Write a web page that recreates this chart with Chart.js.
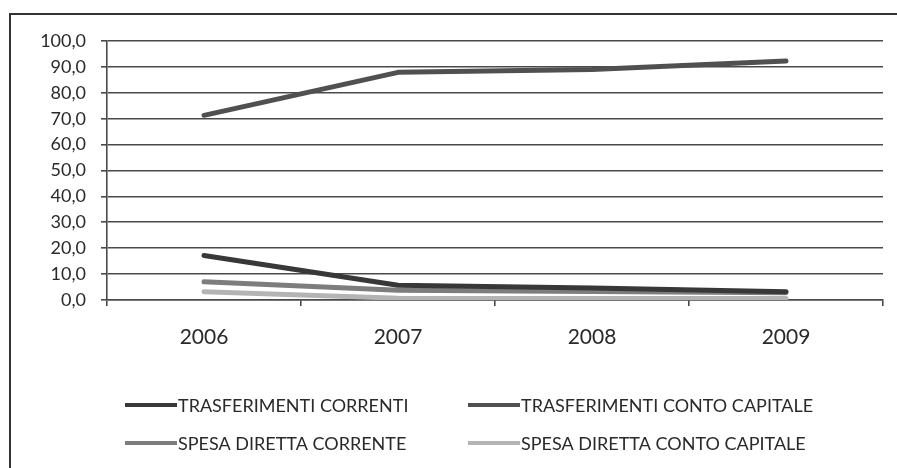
<!DOCTYPE html>
<html>
<head>
<meta charset="utf-8">
<script src="https://cdn.jsdelivr.net/npm/chart.js@4/dist/chart.umd.min.js"></script>
<style>
  html, body { margin: 0; padding: 0; background: #fff; overflow: hidden; }
  #wrap { position: relative; width: 897px; height: 468px; }
  #frame { position: absolute; left: 9px; top: 13px; width: 1000px; height: 600px; border: 2px solid #333; box-sizing: border-box; }
  canvas { position: absolute; left: 0; top: 0; }
</style>
</head>
<body>
<div id="wrap">
  <div id="frame"></div>
  <canvas id="c" width="897" height="468"></canvas>
</div>
<script>
const categories = ["2006", "2007", "2008", "2009"];
const seriesNames = ["TRASFERIMENTI CORRENTI", "TRASFERIMENTI CONTO CAPITALE", "SPESA DIRETTA CORRENTE", "SPESA DIRETTA CONTO CAPITALE"];
const trasferimentiCorrenti = [17.2, 5.7, 4.6, 3.2];
const trasferimentiContoCapitale = [71.3, 87.9, 89.0, 92.3];
const spesaDirettaCorrente = [7.0, 3.8, 3.3, 2.8];
const spesaDirettaContoCapitale = [3.2, 0.7, 0.6, 0.6];
const yTicks = [0, 10, 20, 30, 40, 50, 60, 70, 80, 90, 100];
const colors = ["#383838", "#505050", "#7d7d7d", "#b4b4b4"];

const seriesValues = [trasferimentiCorrenti, trasferimentiContoCapitale, spesaDirettaCorrente, spesaDirettaContoCapitale];

const legendPlugin = {
  id: 'customLegend',
  afterDraw(chart) {
    const ctx = chart.ctx;
    ctx.save();
    const colX = [125, 468];
    const rowY = [405, 443];
    chart.data.datasets.forEach((ds, i) => {
      const x = colX[i % 2];
      const y = rowY[Math.floor(i / 2)];
      ctx.strokeStyle = ds.borderColor;
      ctx.lineWidth = 4;
      ctx.lineCap = 'butt';
      ctx.beginPath();
      ctx.moveTo(x, y);
      ctx.lineTo(x + 52, y);
      ctx.stroke();
      ctx.fillStyle = '#2a2a2a';
      ctx.font = '18px Lato';
      ctx.textBaseline = 'middle';
      ctx.textAlign = 'left';
      ctx.fillText(ds.label, x + 53, y + 1);
    });
    ctx.restore();
  }
};

new Chart(document.getElementById('c'), {
  type: 'line',
  data: {
    labels: categories,
    datasets: seriesNames.map((name, i) => ({
      label: name,
      data: seriesValues[i],
      borderColor: colors[i],
      backgroundColor: colors[i],
      borderWidth: 5,
      pointRadius: 0,
      tension: 0,
      borderCapStyle: 'round',
      borderJoinStyle: 'round'
    }))
  },
  options: {
    responsive: false,
    animation: false,
    layout: { padding: { top: 41, right: 14, left: 0, bottom: 108 } },
    plugins: { legend: { display: false }, tooltip: { enabled: false } },
    scales: {
      x: {
        offset: true,
        grid: { offset: true, drawOnChartArea: false, drawTicks: true, tickLength: 6, color: '#4a4a4a', lineWidth: 1.6 },
        border: { color: '#4a4a4a', width: 1.6 },
        ticks: { font: { family: 'Lato', size: 21 }, color: '#2a2a2a', padding: 19 },
        afterFit(scale) { scale.height = 60; }
      },
      y: {
        min: 0, max: 100,
        afterBuildTicks(scale) { scale.ticks = yTicks.map(v => ({ value: v })); },
        grid: { color: '#4a4a4a', lineWidth: 1.6, tickLength: 6 },
        border: { color: '#4a4a4a', width: 1.6 },
        ticks: {
          font: { family: 'Lato', size: 18 }, color: '#2a2a2a', padding: 15,
          callback: v => v.toFixed(1).replace('.', ',')
        },
        afterFit(scale) { scale.width = 107; }
      }
    }
  },
  plugins: [legendPlugin]
});
</script>
</body>
</html>
